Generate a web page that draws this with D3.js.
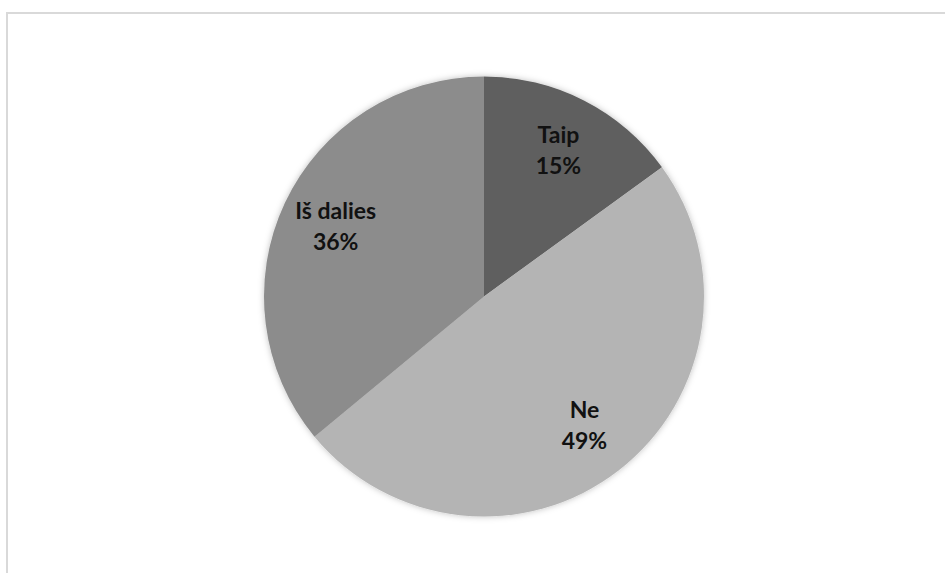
<!DOCTYPE html>
<html>
<head>
<meta charset="utf-8">
<script src="https://cdn.jsdelivr.net/npm/d3@7"></script>
<style>
  html, body { margin: 0; padding: 0; background: #fff; }
  svg { display: block; }
</style>
</head>
<body>
<svg id="chart" width="945" height="573"></svg>
<script>
// Survey answers and their shares (%)
const categories = ["Taip", "Ne", "Iš dalies"];
const values = [15, 49, 36];
const colors = ["#5f5f5f", "#b4b4b4", "#8c8c8c"];

const svg = d3.select("#chart");

// Chart frame (continues past the right and bottom edges)
svg.append("rect")
  .attr("x", 7).attr("y", 13)
  .attr("width", 960).attr("height", 600)
  .attr("fill", "#fff")
  .attr("stroke", "#d9d9d9")
  .attr("stroke-width", 2);

// Soft shadow around the pie
const defs = svg.append("defs");
const f = defs.append("filter").attr("id", "shadow")
  .attr("x", "-10%").attr("y", "-10%").attr("width", "120%").attr("height", "120%");
f.append("feDropShadow")
  .attr("dx", 0).attr("dy", 0).attr("stdDeviation", 3)
  .attr("flood-color", "#000").attr("flood-opacity", 0.25);

const cx = 484, cy = 296.5, r = 220;

const pie = d3.pie().sort(null).value(d => d)(values);
const arc = d3.arc().innerRadius(0).outerRadius(r);
const labelArc = d3.arc().innerRadius(r * 0.745).outerRadius(r * 0.745);

const g = svg.append("g").attr("transform", `translate(${cx},${cy})`);

g.append("g").attr("filter", "url(#shadow)")
  .selectAll("path")
  .data(pie)
  .join("path")
  .attr("d", arc)
  .attr("fill", (d, i) => colors[i]);

const labels = g.selectAll("text.lbl")
  .data(pie)
  .join("text")
  .attr("class", "lbl")
  .attr("transform", d => `translate(${labelArc.centroid(d)})`)
  .attr("text-anchor", "middle")
  .attr("font-family", "Lato, 'Open Sans', sans-serif")
  .attr("font-weight", "bold")
  .attr("font-size", 23)
  .attr("fill", "#111");

labels.append("tspan")
  .attr("x", 0).attr("dy", "-0.33em")
  .text((d, i) => categories[i]);
labels.append("tspan")
  .attr("x", 0).attr("dy", "1.35em")
  .text(d => d.data + "%");
</script>
</body>
</html>
